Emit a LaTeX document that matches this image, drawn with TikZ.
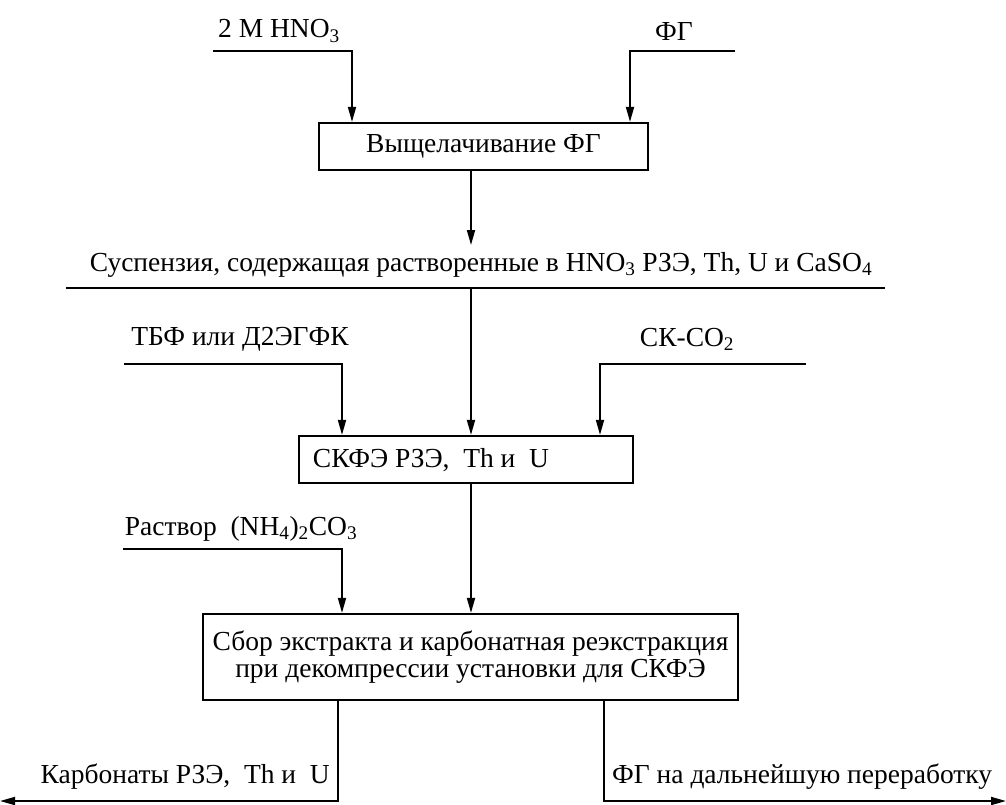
\documentclass[tikz,border=0pt]{standalone}
\usepackage{fontspec}
\setmainfont{Liberation Serif}
\usetikzlibrary{arrows.meta}
\tikzset{
  lbl/.style={inner sep=0pt, font=\fontsize{27.5}{27}\selectfont},
  procbox/.style={draw, line width=2.2pt, inner sep=0pt, font=\fontsize{27.5}{27}\selectfont},
  conn/.style={line width=1.8pt},
  arr/.style={conn, -{Triangle[length=15pt,width=8pt]}},
}
\begin{document}
\begin{tikzpicture}[x=1pt,y=-1pt]
\useasboundingbox (0,0) rectangle (1006,804);
% columns
\coordinate (mid) at (471,0);
% top inputs
\node[lbl] (hno3) at (279,31) {2 М HNO\textsubscript{3}};
\node[lbl] (fg) at (674,31) {ФГ};
\coordinate (hno3s) at (213,51);
\coordinate (hno3c) at (352,51);
\coordinate (fgs) at (735,51);
\coordinate (fgc) at (630,51);
% box 1
\node[procbox, minimum width=329pt, minimum height=47pt] (b1) at (483.5,146.5) {Выщелачивание ФГ};
\draw[arr] (hno3s) -- (hno3c) -- (hno3c |- b1.north);
\draw[arr] (fgs) -- (fgc) -- (fgc |- b1.north);
% suspension
\node[lbl] (susp) at (481,265) {Суспензия, содержащая растворенные в HNO\textsubscript{3} РЗЭ, Th, U и CaSO\textsubscript{4}};
\coordinate (suspl) at (66,288);
\coordinate (suspr) at (885,288);
\coordinate (susptip) at (471,245);
\draw[conn] (suspl) -- (suspr);
\draw[arr] (b1.south -| mid) -- (susptip);
% second inputs
\node[lbl] (tbf) at (240,339) {ТБФ или Д2ЭГФК};
\node[lbl] (sk) at (687,339) {СК-CO\textsubscript{2}};
\coordinate (tbfs) at (124,364);
\coordinate (tbfc) at (342,364);
\coordinate (sks) at (806,364);
\coordinate (skc) at (600,364);
% box 2
\node[procbox, minimum width=334pt, minimum height=47pt] (b2) at (466,459.5) {};
\node[lbl] (b2t) at (431,460) {СКФЭ РЗЭ, \ Th и \ U};
\draw[arr] (tbfs) -- (tbfc) -- (tbfc |- b2.north);
\draw[arr] (sks) -- (skc) -- (skc |- b2.north);
\draw[arr] (suspl -| mid) -- (b2.north -| mid);
% third input
\node[lbl] (nh4) at (241,529) {Раствор \ (NH\textsubscript{4})\textsubscript{2}CO\textsubscript{3}};
\coordinate (nh4s) at (123,549);
\coordinate (nh4c) at (342,549);
% box 3
\node[procbox, minimum width=535pt, minimum height=86pt, align=center] (b3) at (470.5,657)
  {Сбор экстракта и карбонатная реэкстракция\\[-0.5pt]при декомпрессии установки для СКФЭ};
\draw[arr] (nh4s) -- (nh4c) -- (nh4c |- b3.north);
\draw[arr] (b2.south -| mid) -- (b3.north -| mid);
% outputs
\coordinate (outl) at (338,0);
\coordinate (outr) at (604,0);
\coordinate (outlend) at (0,801);
\coordinate (outrend) at (1006,801);
\draw[arr] (b3.south -| outl) -- (outl |- outlend) -- (outlend);
\draw[arr] (b3.south -| outr) -- (outr |- outrend) -- (outrend);
\node[lbl, anchor=east] (carb) at (330,777) {Карбонаты РЗЭ, \ Th и \ U};
\node[lbl, anchor=west] (fgout) at (612,777) {ФГ на дальнейшую переработку};
\end{tikzpicture}
\end{document}
